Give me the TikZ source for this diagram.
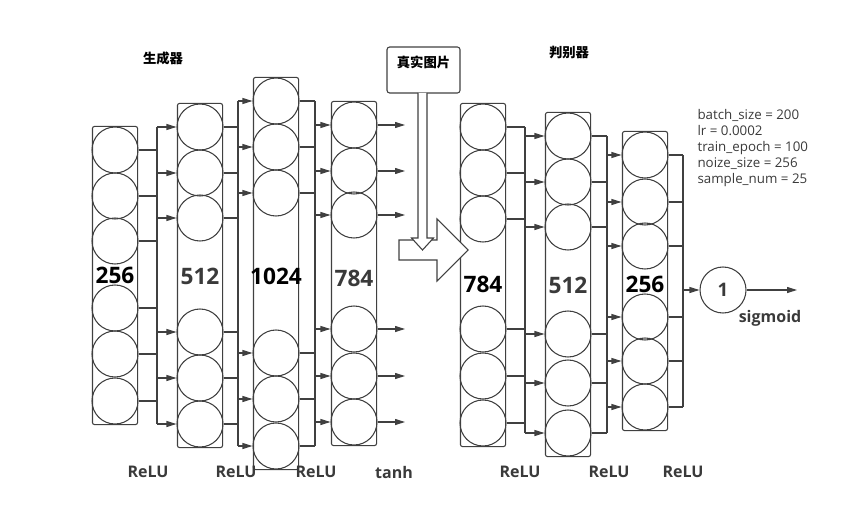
\documentclass[tikz,border=0pt]{standalone}
\usepackage{fontspec}
\setmainfont{Open Sans}
\newfontfamily\cjk{Noto Sans CJK SC}
\usetikzlibrary{arrows.meta,fit}
\definecolor{linegray}{HTML}{404040}
\definecolor{textgray}{HTML}{3A3A3A}
\tikzset{
	neuron/.style={circle,draw=linegray,minimum size=34.5pt,inner sep=0pt},
	layerbox/.style={draw=linegray,rounded corners=1.5pt,inner xsep=-0.75pt,inner ysep=0pt},
	layernum/.style={font=\bfseries\fontsize{17pt}{20pt}\selectfont,inner sep=0pt},
	actlabel/.style={font=\bfseries\fontsize{12pt}{14pt}\selectfont,text=textgray,inner sep=0pt},
	title/.style={font=\cjk\bfseries\fontsize{10pt}{12pt}\selectfont,text=black,inner sep=0pt},
	imgbox/.style={draw=linegray,rounded corners=2pt,minimum width=54.75pt,minimum height=34.5pt}
}
\begin{document}
\begin{tikzpicture}[x=0.75pt,y=-0.75pt,>={Triangle[length=7.5pt,width=4.5pt]},line width=0.8pt,color=linegray]
	\useasboundingbox (0,0) rectangle (855,531);
	% neurons of every layer
	\foreach \name/\x/\ys in {ga/115/{150,196,241,308,354,401},gb/200/{127,173,218,332,378,424},gc/276/{101,147,193,353,399,446},gd/354/{125,171,215,329,376,422},da/483/{127,173,219,329,376,423},db/568/{136,182,227,334,383,433},dc/645/{155,202,246,317,361,407}}
		\foreach \y [count=\i] in \ys
			\node[neuron] (\name\i) at (\x,\y) {};
	\foreach \name in {ga,gb,gc,gd,da,db,dc}
		\node[layerbox,fit=(\name1)(\name6)] (\name-box) {};
	\foreach \name/\y/\txt/\col in {ga/275/256/black,gb/276/512/textgray,gc/276/1024/black,gd/278/784/textgray,da/284/784/black,db/285/512/textgray,dc/284/256/black}
		\node[layernum,text=\col] (\name-num) at (\name-box.center |- 0,\y) {\txt};
	% buses between layers
	\coordinate (busa) at (157,0);
	\coordinate (busb) at (238,0);
	\coordinate (busc) at (315,0);
	\coordinate (busd) at (525,0);
	\coordinate (buse) at (607,0);
	\coordinate (busf) at (683,0);
	\coordinate (gout) at (405,0);
	\foreach \from/\bus/\to in {ga/busa/gb,gb/busb/gc,gc/busc/gd,da/busd/db,db/buse/dc}
		\foreach \i in {1,...,6} {
			\draw (\from\i.east) -- (\from\i.east -| \bus);
			\draw[->] (\to\i.west -| \bus) -- (\to\i.west);
		}
	\draw (busa |- gb1.west) -- (busa |- gb6.west);
	\draw (busb |- gc1.west) -- (busb |- gc6.west);
	\draw (busc |- gc1.east) -- (busc |- gc6.east);
	\draw (busd |- da1.east) -- (busd |- db6.west);
	\draw (buse |- db1.east) -- (buse |- db6.east);
	\foreach \i in {1,...,6} {
		\draw (dc\i.east) -- (dc\i.east -| busf);
		\draw[->] (gd\i.east) -- (gd\i.east -| gout);
	}
	\draw (busf |- dc1.east) -- (busf |- dc6.east);
	% output neuron
	\node[neuron,font=\bfseries\fontsize{14pt}{16pt}\selectfont,text=textgray] (out) at (723,290) {1};
	\coordinate (dout) at (797,290);
	\draw[->] (out.west -| busf) -- (out.west);
	\draw[->] (out.east) -- (dout);
	\node[actlabel] (sig) at (770,318) {sigmoid};
	% real images into the discriminator
	\node[imgbox] (real) at (423.5,70) {};
	\node[title] (real-txt) at ([yshift=6pt]real.center) {真实图片};
	\draw[fill=white] (399,240) -- (437,240) -- (437,219) -- (468,250) -- (437,281) -- (437,260) -- (399,260) -- cycle;
	\draw[fill=white] (418,93) -- (418,238) -- (411.5,238) -- (422.5,250) -- (433.5,238) -- (427,238) -- (427,93);
	% titles and activations
	\node[title] (gen) at (163,58) {生成器};
	\node[title] (dis) at (569,53) {判别器};
	\foreach \x [count=\i] in {148,236,316,520,609,683}
		\node[actlabel] (act\i) at (\x,472) {ReLU};
	\node[actlabel] (tanh) at (394,472) {tanh};
	\node[anchor=north west,align=left,inner sep=0pt,text=textgray,font=\fontsize{10pt}{12pt}\selectfont] (params) at (697,109) {batch\_size = 200\\lr = 0.0002\\train\_epoch = 100\\noize\_size = 256\\sample\_num = 25};
\end{tikzpicture}
\end{document}
